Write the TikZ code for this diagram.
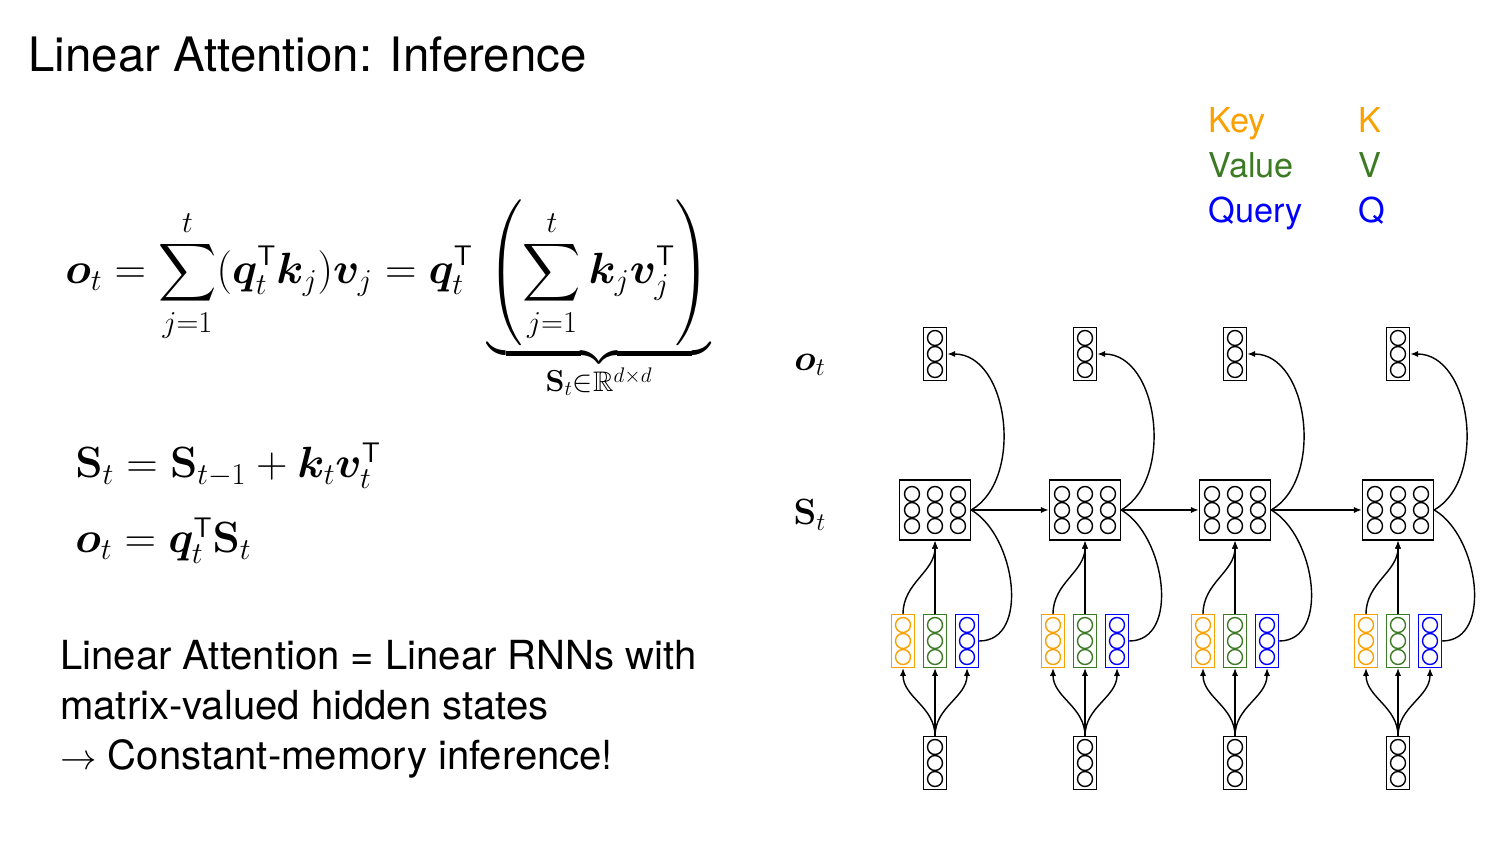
\documentclass[tikz,border=0pt]{standalone}
\usepackage{amsmath,amssymb}
\usepackage{bm}
\usepackage[no-math]{fontspec}
\setmainfont{TeX Gyre Heros}
\usetikzlibrary{arrows.meta,positioning,calc}
\definecolor{keyc}{RGB}{250,160,0}
\definecolor{valc}{RGB}{60,122,36}
\definecolor{qryc}{RGB}{0,0,255}
\newcommand{\tp}{^{\textsf{T}}}
\newcommand{\St}{\bm{\mathrm{S}}}

\begin{document}
\begin{tikzpicture}[x=0.02cm, y=0.02cm,
  vec/.style={rectangle, draw, line width=0.8pt, minimum width=0.46cm, minimum height=1.05cm, inner sep=0pt},
  mat/.style={rectangle, draw, line width=0.8pt, minimum width=1.42cm, minimum height=1.2cm, inner sep=0pt},
  arr/.style={-{Latex[length=4.5pt,width=3.5pt]}, line width=0.8pt},
  lnk/.style={line width=0.8pt},
  every node/.style={inner sep=0pt}
]
\useasboundingbox (0,0) rectangle (1500,844);

% Title
\node[anchor=base west, font=\fontsize{27}{32}\selectfont] (title) at (28,844-72) {Linear Attention: Inference};

% Equations
\node[anchor=base west, font=\fontsize{23}{27}\selectfont] (eqa) at (65,844-284)
  {$\displaystyle \bm o_t = \sum_{j=1}^{t} (\bm q_t\tp \bm k_j)\bm v_j = \bm q_t\tp\, \underbrace{\left(\sum_{j=1}^{t}\bm k_j \bm v_j\tp\right)}_{\St_t\in\mathbb R^{d\times d}}$};
\node[anchor=base west, font=\fontsize{23}{27}\selectfont] (eqb) at (75,844-478)
  {$\St_t = \St_{t-1} + \bm k_t \bm v_t\tp$};
\node[anchor=base west, font=\fontsize{23}{27}\selectfont] (eqc) at (75,844-553)
  {$\bm o_t = \bm q_t\tp \St_t$};

% Summary text
\node[anchor=base west, align=left, font=\fontsize{22.8}{28.5}\selectfont] (summary) at (60,844-770)
  {Linear Attention = Linear RNNs with\\matrix-valued hidden states\\$\rightarrow$ Constant-memory inference!};

% Legend
\node[anchor=base west, text=keyc, font=\fontsize{19.5}{23}\selectfont] (lkey) at (1208,844-133) {Key};
\node[anchor=base west, text=valc, font=\fontsize{19.5}{23}\selectfont] (lval) at (1208,844-178) {Value};
\node[anchor=base west, text=qryc, font=\fontsize{19.5}{23}\selectfont] (lqry) at (1208,844-223) {Query};
\node[anchor=base west, text=keyc, font=\fontsize{19.5}{23}\selectfont] (lk) at (1358,844-133) {K};
\node[anchor=base west, text=valc, font=\fontsize{19.5}{23}\selectfont] (lv) at (1358,844-178) {V};
\node[anchor=base west, text=qryc, font=\fontsize{19.5}{23}\selectfont] (lq) at (1358,844-223) {Q};

% Row labels
\node[font=\fontsize{21}{25}\selectfont] (lo) at (810,479) {$\bm o_t$};
\node[font=\fontsize{21}{25}\selectfont] (ls) at (810,329) {$\St_t$};

% Columns
\foreach \i/\x in {1/935,2/1085,3/1235,4/1398}{
  \node[vec] (o\i) at (\x,490) {};
  \node[mat] (s\i) at (\x,334) {};
  \node[vec, draw=keyc] (k\i) at (\x-32,203) {};
  \node[vec, draw=valc] (v\i) at (\x,203) {};
  \node[vec, draw=qryc] (q\i) at (\x+32,203) {};
  \node[vec] (x\i) at (\x,81) {};
  % circles
  \foreach \d in {-16,0,16}{
    \draw[line width=0.8pt] (\x,490+\d) circle (7.5);
    \draw[line width=0.8pt] (\x,81+\d) circle (7.5);
    \draw[keyc, line width=0.8pt] (\x-32,203+\d) circle (7.5);
    \draw[valc, line width=0.8pt] (\x,203+\d) circle (7.5);
    \draw[qryc, line width=0.8pt] (\x+32,203+\d) circle (7.5);
    \foreach \e in {-23,0,23}
      \draw[line width=0.8pt] (\x+\e,334+\d) circle (7.5);
  }
  % connectors
  \draw[arr] (x\i.north) to[out=90,in=-90] (k\i.south);
  \draw[arr] (x\i.north) -- (v\i.south);
  \draw[arr] (x\i.north) to[out=90,in=-90] (q\i.south);
  \draw[arr] (k\i.north) to[out=90,in=-90] (s\i.south);
  \draw[arr] (v\i.north) -- (s\i.south);
  \draw[lnk] (q\i.east) to[out=0,in=-30] (s\i.east);
  \draw[arr] (s\i.east) to[out=30,in=0] (o\i.east);
}
\foreach \i/\j in {1/2,2/3,3/4}
  \draw[arr] (s\i.east) -- (s\j.west);

\end{tikzpicture}
\end{document}
